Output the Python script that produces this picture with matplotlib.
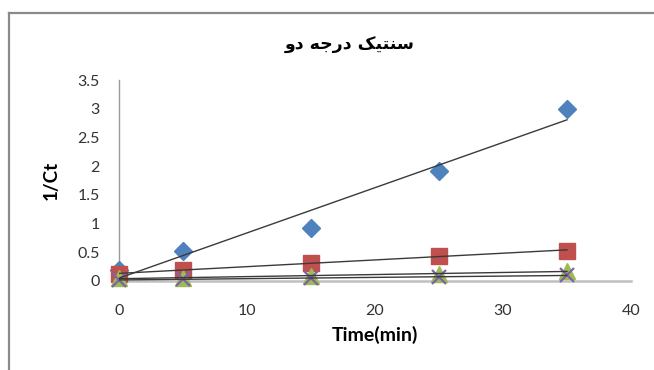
import numpy as np
import matplotlib
matplotlib.use("Agg")
import matplotlib.pyplot as plt
from matplotlib.lines import Line2D

# Data
time_min = [0, 5, 15, 25, 35]
series_blue = [0.19, 0.52, 0.92, 1.92, 3.0]
series_red = [0.12, 0.20, 0.31, 0.44, 0.53]
series_green = [0.05, 0.06, 0.08, 0.12, 0.18]
series_purple = [0.02, 0.03, 0.05, 0.07, 0.10]
x_ticks = [0, 10, 20, 30, 40]
y_ticks = [0, 0.5, 1, 1.5, 2, 2.5, 3, 3.5]
y_tick_labels = ["0", "0.5", "1", "1.5", "2", "2.5", "3", "3.5"]

# Title "سنتیک درجه دو" pre-shaped with Arabic presentation forms, in visual (LTR) order
title_text = "\uFEED\uFEA9 \uFEEA\uFE9F\uFEAD\uFEA9 \uFB8F\uFBFF\uFE98\uFEE8\uFEB3"

W, H = 654, 370
fig = plt.figure(figsize=(W / 100, H / 100), dpi=100)
fig.patch.set_facecolor("white")

ax = fig.add_axes([119 / W, 1 - 281 / H, (631 - 119) / W, (281 - 80) / H])
ax.set_xlim(0, 40)
ax.set_ylim(0, 3.5)

styles = [
    (series_blue, "D", "#4F81BD", 9, None),
    (series_red, "s", "#C0504D", 11, None),
    (series_green, "^", "#9BBB59", 11, None),
    (series_purple, "x", "#8064A2", 10, 1.6),
]
x = np.array(time_min, dtype=float)
for vals, mk, col, ms, mew in styles:
    kw = dict(marker=mk, color=col, markersize=ms, linestyle="none", zorder=3, clip_on=False)
    if mew:
        kw["markeredgewidth"] = mew
    else:
        kw["markeredgecolor"] = col
    ax.plot(x, vals, **kw)
for vals, mk, col, ms, mew in styles:
    a, b = np.polyfit(x, np.array(vals), 1)
    xs = np.array([x.min(), x.max()])
    ax.plot(xs, a * xs + b, color="#3a3a3a", lw=1.0, zorder=4)

for s in ["top", "right"]:
    ax.spines[s].set_visible(False)
ax.spines["left"].set_color("#9a9a9a")
ax.spines["left"].set_linewidth(1.0)
ax.spines["bottom"].set_color("#c0c0c0")
ax.spines["bottom"].set_linewidth(1.8)

ax.set_xticks(x_ticks)
ax.set_yticks(y_ticks)
ax.set_yticklabels(y_tick_labels)
ax.tick_params(axis="both", length=0, labelsize=11.5, colors="#222222", labelcolor="#333333")
ax.tick_params(axis="y", pad=14)
ax.tick_params(axis="x", pad=16.5)
for lab in ax.get_xticklabels() + ax.get_yticklabels():
    lab.set_family("Lato")

ax.set_xlabel("Time(min)", fontsize=14, fontweight="bold", family="Lato")
ax.set_ylabel("1/Ct", fontsize=13.5, fontweight="bold", family="Lato")
ax.xaxis.set_label_coords(0.5, -0.225)
ax.yaxis.set_label_coords(-0.115, 0.5)

fig.text(350 / W, 1 - 45 / H, title_text, ha="center", va="center",
         fontsize=12.5, fontweight="bold", family=["DejaVu Sans"])

# outer frame (top and left border)
fig.add_artist(Line2D([8.5 / W, 8.5 / W], [0, 1 - 13 / H], transform=fig.transFigure,
                      color="#8a8a8a", lw=1.6))
fig.add_artist(Line2D([8.5 / W, 1.0], [1 - 13 / H, 1 - 13 / H], transform=fig.transFigure,
                      color="#8a8a8a", lw=1.6))

fig.savefig("out.png", dpi=100)
